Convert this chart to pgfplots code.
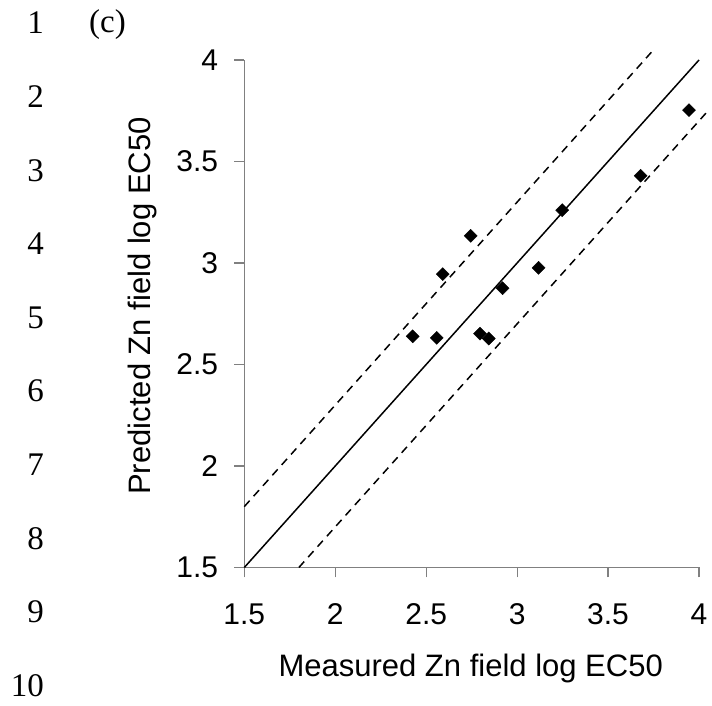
\documentclass[border=0pt]{standalone}
\usepackage{pgfplots}
\pgfplotsset{compat=1.18}
\usepackage{fontspec}
\setmainfont{Liberation Sans}
\newfontfamily\timesfont{Liberation Serif}
\definecolor{axisgray}{RGB}{128,128,128}
\newcommand{\tickfont}{\fontsize{30}{36}\selectfont}

\begin{document}
\begin{tikzpicture}
\path[use as bounding box] (0pt,0pt) rectangle (712pt,706pt);
\begin{axis}[
  at={(244.3pt,138.5pt)}, anchor=south west,
  scale only axis, width=454.7pt, height=507.5pt,
  xmin=1.5, xmax=4, ymin=1.5, ymax=4,
  xtick={1.5,2,2.5,3,3.5,4}, ytick={1.5,2,2.5,3,3.5,4},
  xticklabels={}, yticklabels={},
  axis x line*=bottom, axis y line*=left,
  axis line style={-, draw=axisgray, line width=1.2pt},
  tick align=outside, major tick length=10pt,
  tick style={draw=axisgray, line width=1.2pt},
  clip=false,
]
% 1:1 line and factor-of-two bounds
\addplot[black, line width=1.5pt] coordinates {(1.5,1.5)(4,4)};
\addplot[black, line width=1.5pt, dash pattern=on 8pt off 6pt] coordinates {(1.5,1.8)(3.75,4.05)};
\addplot[black, line width=1.5pt, dash pattern=on 8pt off 6pt] coordinates {(1.8,1.5)(4.06,3.76)};
% measured vs predicted
\addplot[only marks, mark=square*, mark size=4.6pt,
  mark options={rotate=45, fill=black, draw=black}]
  coordinates {
    (2.426,2.639)(2.558,2.631)(2.591,2.945)(2.745,3.134)(2.796,2.652)
    (2.844,2.628)(2.920,2.876)(3.118,2.976)(3.248,3.260)(3.679,3.430)
    (3.945,3.753)
  };
% tick labels, set apart from the axis as in the original
\pgfplotsinvokeforeach{1.5,2,2.5,3,3.5,4}{
  \node[anchor=base, inner sep=0pt, font=\tickfont]
    at ([yshift=-57.5pt]axis cs:#1,1.5) {#1};
  \node[anchor=east, inner sep=0pt, font=\tickfont]
    at ([xshift=-26pt]axis cs:1.5,#1) {#1};
}
\end{axis}
% axis titles
\node[anchor=base, inner sep=0pt, font=\fontsize{31}{37}\selectfont]
  at (470.7pt,29.3pt) {Measured Zn field log EC50};
\node[anchor=base, rotate=90, inner sep=0pt, font=\fontsize{31}{37}\selectfont]
  at (150pt,400pt) {Predicted Zn field log EC50};
% panel letter and manuscript line numbers
\node[anchor=base west, inner sep=0pt, font=\timesfont\fontsize{33}{40}\selectfont]
  at (89pt,673pt) {(c)};
\foreach \i in {1,...,10} {
  \pgfmathsetmacro{\ly}{706-34-(\i-1)*73.6}
  \node[anchor=base east, inner sep=0pt, font=\timesfont\fontsize{33}{40}\selectfont]
    at (44pt,\ly pt) {\i};
}
\end{tikzpicture}
\end{document}
